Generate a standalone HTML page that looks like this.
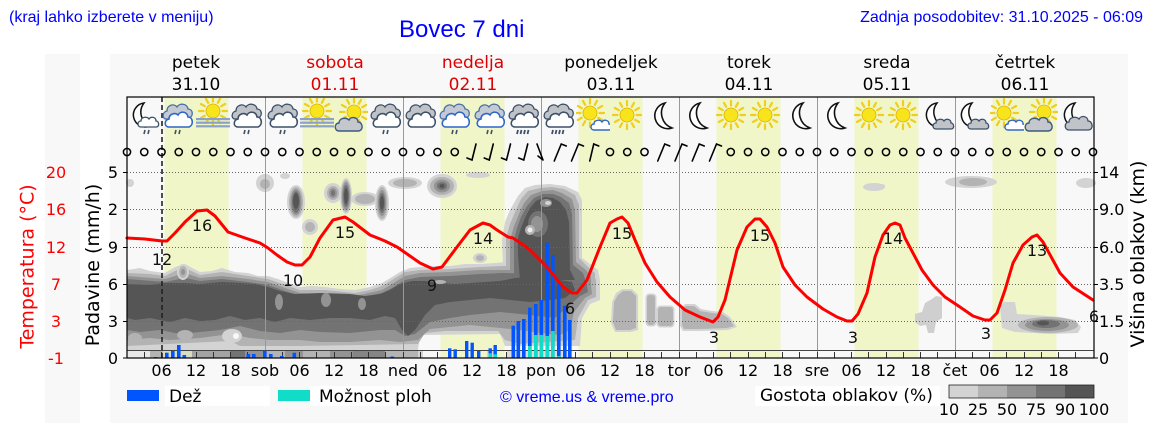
<!DOCTYPE html>
<html><head><meta charset="utf-8"><style>
html,body{margin:0;padding:0;background:#fff;width:1152px;height:443px;overflow:hidden}
svg{display:block}
.t{font-family:"DejaVu Sans","Liberation Sans",sans-serif}
.h{font-family:"Liberation Sans","DejaVu Sans",sans-serif}
</style></head><body>
<svg width="1152" height="443" viewBox="0 0 1152 443" xmlns="http://www.w3.org/2000/svg">
<defs>
<symbol id="sunS" viewBox="0 0 34 38">
<path d="M26.5,17 L31,17 M25.2,21.8 L29.1,24 M21.8,25.2 L24,29.1 M17,26.5 L17,31 M12.2,25.2 L10,29.1 M8.8,21.8 L4.9,24 M7.5,17 L3,17 M8.8,12.2 L4.9,10 M12.2,8.8 L10,4.9 M17,7.5 L17,3 M21.8,8.8 L24,4.9 M25.2,12.2 L29.1,10" stroke="#efcf1c" stroke-width="2.2" stroke-linecap="round"/>
<circle cx="17" cy="17" r="7" fill="#f7e41d" stroke="#e0b400" stroke-width="0.8"/>
</symbol>
<symbol id="cR" viewBox="0 0 34 38">
<path d="M5,21 C1,21 1,14 6,13 C6,7 13,5 16,9 C18,5 26,5 27,11 C32,11 33,18 28,20 Z" fill="#bfc3c8" stroke="#3d5068" stroke-width="1.3"/>
<path d="M8,29 C3,29 3,22 8,21 C8,16 14,14 17,17 C19,13 26,13 27,19 C32,19 33,27 28,29 Z" fill="#fff" stroke="#3d5068" stroke-width="1.6"/>
<path d="M15,32 l-1,4 M19,32 l-1,4" stroke="#3d5068" stroke-width="1.6"/>
</symbol>
<symbol id="cN" viewBox="0 0 34 38">
<path d="M5,21 C1,21 1,14 6,13 C6,7 13,5 16,9 C18,5 26,5 27,11 C32,11 33,18 28,20 Z" fill="#bfc3c8" stroke="#3d5068" stroke-width="1.3"/>
<path d="M8,29 C3,29 3,22 8,21 C8,16 14,14 17,17 C19,13 26,13 27,19 C32,19 33,27 28,29 Z" fill="#fff" stroke="#3d5068" stroke-width="1.6"/>
</symbol>
<symbol id="cB" viewBox="0 0 34 38">
<path d="M5,21 C1,21 1,14 6,13 C6,7 13,5 16,9 C18,5 26,5 27,11 C32,11 33,18 28,20 Z" fill="#c4cad4" stroke="#4a6fa8" stroke-width="1.3"/>
<path d="M8,29 C3,29 3,22 8,21 C8,16 14,14 17,17 C19,13 26,13 27,19 C32,19 33,27 28,29 Z" fill="#fff" stroke="#2f66c8" stroke-width="1.6"/>
<path d="M15,32 l-1,4 M19,32 l-1,4" stroke="#3d5068" stroke-width="1.6"/>
</symbol>
<symbol id="cH" viewBox="0 0 34 38">
<path d="M5,21 C1,21 1,14 6,13 C6,7 13,5 16,9 C18,5 26,5 27,11 C32,11 33,18 28,20 Z" fill="#bfc3c8" stroke="#3d5068" stroke-width="1.3"/>
<path d="M8,29 C3,29 3,22 8,21 C8,16 14,14 17,17 C19,13 26,13 27,19 C32,19 33,27 28,29 Z" fill="#fff" stroke="#3d5068" stroke-width="1.6"/>
<path d="M11,32 l-1,4 M14.5,32 l-1,4 M18,32 l-1,4 M21.5,32 l-1,4" stroke="#3d5068" stroke-width="1.8"/>
</symbol>
<symbol id="sF" viewBox="0 0 34 38">
<use href="#sunS" x="0" y="-4" width="34" height="38"/>
<rect x="0" y="20" width="34" height="2.2" fill="#8aa2c8"/>
<rect x="0" y="23.6" width="34" height="2.2" fill="#8aa2c8"/>
<rect x="0" y="27.2" width="34" height="2.2" fill="#8aa2c8"/>
</symbol>
<symbol id="mn" viewBox="0 0 34 38">
<path d="M20,5 A13,13 0 1 0 27,30 A16,16 0 0 1 20,5 Z" fill="#fff" stroke="#111" stroke-width="1.6"/>
</symbol>
<symbol id="mC" viewBox="0 0 34 38">
<path d="M16,5 A12,12 0 1 0 22,28 A15,15 0 0 1 16,5 Z" fill="#fff" stroke="#111" stroke-width="1.5"/>
<path d="M15,31 C11,31 11,25 15,25 C15,21 21,20 23,23 C25,20 30,21 30,25 C33,25 34,31 30,31 Z" fill="#c0c4c8" stroke="#3d5068" stroke-width="1.3"/>
</symbol>
<symbol id="mG" viewBox="0 0 34 38">
<path d="M16,5 A12,12 0 1 0 22,28 A15,15 0 0 1 16,5 Z" fill="#fff" stroke="#111" stroke-width="1.5"/>
<path d="M10,32 C5,32 5,24 10,24 C10,19 17,18 20,21 C22,17 29,18 29,23 C34,23 35,32 29,32 Z" fill="#c0c4c8" stroke="#3d5068" stroke-width="1.3"/>
</symbol>
<symbol id="mR" viewBox="0 0 34 38">
<path d="M16,5 A12,12 0 1 0 22,28 A15,15 0 0 1 16,5 Z" fill="#fff" stroke="#111" stroke-width="1.5"/>
<path d="M13,29 C9,29 9,23 13,23 C13,19 19,18 21,21 C23,18 28,19 28,23 C31,23 32,29 28,29 Z" fill="#fff" stroke="#3d5068" stroke-width="1.3"/>
<path d="M17,32 l-1,4 M21,32 l-1,4" stroke="#3d5068" stroke-width="1.6"/>
</symbol>
<symbol id="sC" viewBox="0 0 34 38">
<use href="#sunS" x="-3" y="-2" width="34" height="38"/>
<path d="M18,32 C14,32 14,26 18,26 C18,22 24,21 26,24 C28,21 33,22 33,26 C36,26 36,32 33,32 Z" fill="#fff" stroke="#3068c8" stroke-width="1.4"/>
</symbol>
<symbol id="sG" viewBox="0 0 34 38">
<use href="#sunS" x="3" y="-3" width="34" height="38"/>
<path d="M5,33 C0,33 0,25 5,25 C5,20 12,19 15,22 C17,18 24,19 24,24 C29,24 30,33 24,33 Z" fill="#c4c8cc" stroke="#3d5a80" stroke-width="1.4"/>
</symbol>
</defs>

<!-- panels -->
<rect x="45" y="54" width="35" height="369" fill="#f8f8f8"/>
<rect x="110" y="54" width="1018" height="369" fill="#f8f8f8"/>

<!-- header text -->
<text class="h" x="9" y="22" font-size="16" fill="#0000ff">(kraj lahko izberete v meniju)</text>
<text class="h" x="399" y="37" font-size="24" fill="#0000ff">Bovec 7 dni</text>
<text class="h" x="1143" y="22" font-size="16" fill="#0000ff" text-anchor="end">Zadnja posodobitev: 31.10.2025 - 06:09</text>

<!-- day labels -->
<g class="t" font-size="17" text-anchor="middle">
<text x="196" y="68">petek</text><text x="196" y="90">31.10</text>
<text x="335" y="68" fill="#dd0000">sobota</text><text x="335" y="90" fill="#dd0000">01.11</text>
<text x="473" y="68" fill="#dd0000">nedelja</text><text x="473" y="90" fill="#dd0000">02.11</text>
<text x="611" y="68">ponedeljek</text><text x="611" y="90">03.11</text>
<text x="749" y="68">torek</text><text x="749" y="90">04.11</text>
<text x="887" y="68">sreda</text><text x="887" y="90">05.11</text>
<text x="1025" y="68">četrtek</text><text x="1025" y="90">06.11</text>
</g>

<!-- day bands -->
<g fill="#f0f6c8">
<rect x="164.5" y="97" width="64" height="261"/>
<rect x="302.5" y="97" width="64" height="261"/>
<rect x="440.5" y="97" width="64" height="261"/>
<rect x="578.5" y="97" width="64" height="261"/>
<rect x="716.5" y="97" width="64" height="261"/>
<rect x="854.5" y="97" width="64" height="261"/>
<rect x="992.5" y="97" width="64" height="261"/>
</g>

<!-- clouds: low layer + blob -->
<polygon fill="#d3d3d3" points="127,270 140,268 150,271 165,273 175,267 185,264 192,268 200,272 212,271 222,268 235,272 248,273 258,276 268,276 278,279 288,283 300,287 312,286 325,287 340,289 355,290 370,287 382,283 392,277 400,272 410,268 420,267 435,266 450,266 465,264 480,264 495,263 505,262 580,262 590,266 598,270 600,280 600,300 590,304 582,318 580,346 505,346 500,334 420,335 418,350 127,350"/>
<polygon fill="#d3d3d3" points="503,265 502,240 505,222 510,210 518,196 525,188 535,185 550,184 565,186 578,192 582,200 582,258 590,264 598,270 598,290 503,290"/>
<polygon fill="#b3b3b3" points="127,273 150,274 165,276 175,271 185,268 200,275 222,272 248,276 268,279 288,286 300,290 325,290 355,293 370,290 382,286 392,280 405,272 420,270 450,269 480,267 503,266 580,266 592,271 596,280 596,297 588,300 578,318 575,340 520,344 505,340 498,331 445,331 425,333 418,344 300,346 262,346 240,346 230,341 127,346"/>
<polygon fill="#b3b3b3" points="506,262 506,238 510,224 515,212 521,199 528,191 540,188 552,187 564,189 575,195 579,205 579,258 588,267 595,273 595,288 506,288"/>
<polygon fill="#939393" points="127,276 165,279 185,273 200,278 222,276 248,279 268,282 288,289 300,293 355,296 382,290 392,284 405,276 420,273 450,272 480,270 503,270 575,270 590,276 592,294 585,298 574,312 570,330 560,335 540,333 520,330 500,328 470,325 450,327 430,329 418,340 400,342 380,340 350,342 320,342 300,340 270,340 250,338 230,334 200,338 170,340 150,338 127,340"/>
<polygon fill="#939393" points="510,260 510,240 514,226 519,214 524,203 531,195 542,191 553,190 562,193 572,199 575,210 576,262 586,270 591,277 591,288 510,288"/>
<polygon fill="#737373" points="127,279 165,282 185,278 200,281 222,279 248,282 268,285 288,292 300,296 355,299 382,293 392,288 405,280 420,277 450,276 480,274 503,273 572,274 586,280 588,292 580,296 570,305 555,318 530,315 500,312 470,315 450,318 430,322 415,334 405,336 395,330 380,330 350,333 320,332 300,330 280,333 260,331 240,326 220,330 200,332 180,334 160,330 140,332 127,330"/>
<polygon fill="#737373" points="514,258 514,240 517,228 521,217 527,206 534,198 543,194 553,194 561,197 569,203 572,214 573,265 583,273 587,285 514,285"/>
<polygon fill="#555555" points="127,284 150,285 165,283 185,283 200,284 222,282 240,283 255,284 268,287 280,291 295,294 320,293 350,294 365,296 380,294 390,290 400,284 412,281 425,281 440,283 455,284 470,283 485,282 500,281 515,278 530,277 545,278 560,280 572,282 575,290 565,298 550,300 530,302 510,300 490,298 470,300 450,302 435,305 425,315 415,330 408,336 402,330 395,318 385,316 370,320 350,318 330,318 310,320 290,318 275,322 260,318 245,320 230,316 215,320 200,321 185,318 170,322 150,318 135,320 127,318"/>
<polygon fill="#555555" points="518,255 518,238 521,228 525,218 530,208 536,201 545,197 553,198 560,202 566,210 569,222 570,270 575,280 520,280"/>
<!-- holes / texture -->
<ellipse cx="538" cy="224" rx="10" ry="13" fill="#737373"/>
<ellipse cx="537" cy="224" rx="6" ry="8" fill="#939393"/>
<ellipse cx="279" cy="302" rx="4" ry="8" fill="#939393"/>
<ellipse cx="326" cy="300" rx="5" ry="7" fill="#939393"/>
<ellipse cx="362" cy="304" rx="4" ry="6" fill="#939393"/>
<ellipse cx="440" cy="282" rx="6" ry="2" fill="#b3b3b3"/>
<ellipse cx="232" cy="336" rx="10" ry="7" fill="#d3d3d3"/>
<ellipse cx="236" cy="336" rx="3" ry="3" fill="#f8f8f8"/>
<ellipse cx="185" cy="335" rx="8" ry="5" fill="#b3b3b3"/>
<ellipse cx="135" cy="338" rx="7" ry="5" fill="#b3b3b3"/>
<ellipse cx="530" cy="230" rx="5" ry="5" fill="#b3b3b3"/>
<ellipse cx="530" cy="230" rx="2.5" ry="2.5" fill="#eeeeee"/>
<ellipse cx="546" cy="203" rx="6" ry="4" fill="#939393"/>
<ellipse cx="548" cy="203" rx="3" ry="2" fill="#d3d3d3"/>

<!-- upper clouds -->
<g>
<ellipse cx="130" cy="183" rx="4" ry="4" fill="#d3d3d3"/>
<ellipse cx="265" cy="183" rx="9" ry="9" fill="#d3d3d3"/><ellipse cx="265" cy="184" rx="5" ry="5" fill="#b3b3b3"/>
<ellipse cx="285" cy="176" rx="5" ry="3" fill="#d3d3d3"/>
<ellipse cx="296" cy="202" rx="9" ry="17" fill="#d3d3d3"/><ellipse cx="296" cy="202" rx="7" ry="15" fill="#b3b3b3"/><ellipse cx="296" cy="202" rx="5.5" ry="13" fill="#939393"/><ellipse cx="296" cy="202" rx="4" ry="11" fill="#737373"/><ellipse cx="296" cy="201" rx="3" ry="8" fill="#555"/>
<ellipse cx="310" cy="227" rx="8" ry="8" fill="#d3d3d3"/><ellipse cx="310" cy="227" rx="5" ry="5" fill="#b3b3b3"/>
<ellipse cx="183" cy="272" rx="6" ry="8" fill="#d3d3d3"/><ellipse cx="183" cy="272" rx="4" ry="6" fill="#b3b3b3"/><ellipse cx="183" cy="272" rx="2" ry="3" fill="#939393"/>
<ellipse cx="365" cy="199" rx="14" ry="7" fill="#d3d3d3"/><ellipse cx="365" cy="199" rx="10" ry="5" fill="#b3b3b3"/>
<ellipse cx="405" cy="183" rx="17" ry="6" fill="#d3d3d3"/><ellipse cx="405" cy="183" rx="12" ry="4" fill="#b3b3b3"/>
<ellipse cx="333" cy="193" rx="9" ry="10" fill="#d3d3d3"/><ellipse cx="333" cy="193" rx="6" ry="7" fill="#b3b3b3"/><ellipse cx="333" cy="193" rx="4" ry="5" fill="#939393"/><ellipse cx="333" cy="193" rx="2" ry="3" fill="#737373"/>
<ellipse cx="346" cy="196" rx="6" ry="18" fill="#d3d3d3"/><ellipse cx="346" cy="196" rx="5" ry="16" fill="#b3b3b3"/><ellipse cx="346" cy="196" rx="4" ry="14" fill="#939393"/><ellipse cx="346" cy="196" rx="3" ry="11" fill="#737373"/><ellipse cx="346" cy="196" rx="2" ry="8" fill="#555"/>
<ellipse cx="382" cy="203" rx="7" ry="18" fill="#d3d3d3"/><ellipse cx="382" cy="203" rx="5.5" ry="16" fill="#b3b3b3"/><ellipse cx="382" cy="203" rx="4" ry="13" fill="#939393"/><ellipse cx="382" cy="203" rx="3" ry="10" fill="#737373"/><ellipse cx="382" cy="203" rx="2" ry="7" fill="#555"/>
<ellipse cx="442" cy="186" rx="15" ry="12" fill="#d3d3d3"/><ellipse cx="442" cy="186" rx="12" ry="9" fill="#b3b3b3"/><ellipse cx="442" cy="186" rx="8" ry="6.5" fill="#939393"/><ellipse cx="442" cy="186" rx="5" ry="4" fill="#737373"/><ellipse cx="442" cy="186" rx="2.5" ry="2" fill="#555"/>
<ellipse cx="478" cy="175" rx="12" ry="3" fill="#d3d3d3"/>
<ellipse cx="480" cy="258" rx="7" ry="5" fill="#d3d3d3"/><ellipse cx="480" cy="258" rx="4" ry="3" fill="#b3b3b3"/>
</g>

<!-- mid-week clouds -->
<g>
<polygon fill="#d3d3d3" points="612,302 616,293 622,289 632,289 638,295 638,330 631,332 615,332 611,323"/>
<polygon fill="#b3b3b3" points="614,302 618,295 623,291 631,291 636,296 636,328 630,330 616,330 613,322"/>
<rect x="645.5" y="293.5" width="11" height="33" rx="4" fill="#d3d3d3"/><rect x="647" y="295" width="8" height="30" rx="3" fill="#b3b3b3"/>
<rect x="656.5" y="305.5" width="18" height="22" rx="4" fill="#d3d3d3"/><rect x="658" y="307" width="15" height="19" rx="3" fill="#b3b3b3"/>
<polygon fill="#d3d3d3" points="680,309 685,304 695,304 701,309 712,311 723,312 730,317 737,327 728,330 700,331 683,331 680,326"/>
<polygon fill="#b3b3b3" points="682,309 686,306 694,306 700,311 712,313 722,314 728,318 734,326 727,328 700,329 684,329 682,325"/>
<ellipse cx="874" cy="187" rx="11" ry="4" fill="#d3d3d3"/>
<ellipse cx="882" cy="186" rx="3" ry="2" fill="#d3d3d3"/>
<polygon fill="#cfcfcf" points="915,314 922,312 925,303 932,299 936,296 942,297 942,318 936,322 934,333 928,333 926,325 920,326 915,322"/>
<ellipse cx="971" cy="182" rx="26" ry="6" fill="#d3d3d3"/><ellipse cx="973" cy="182" rx="14" ry="4" fill="#b3b3b3"/>
<ellipse cx="1086" cy="183" rx="10" ry="5" fill="#d3d3d3"/>
<polygon fill="#d3d3d3" points="1000,306 1004,302 1015,302 1017,314 1035,315 1060,317 1075,320 1081,327 1078,333 1050,334 1015,332 1002,328"/>
<ellipse cx="1048" cy="325" rx="30" ry="8" fill="#b3b3b3"/>
<ellipse cx="1047" cy="325" rx="22" ry="6" fill="#939393"/>
<ellipse cx="1046" cy="324" rx="14" ry="4" fill="#737373"/>
<ellipse cx="1043" cy="323" rx="6" ry="2.5" fill="#555"/>
</g>

<!-- bottom strip -->
<g>
<rect x="127" y="350" width="23" height="8" fill="#e8e8e8"/>
<rect x="150" y="350" width="13" height="8" fill="#b3b3b3"/>
<rect x="163" y="350" width="29" height="8" fill="#d8dcc0"/>
<rect x="192" y="350" width="38" height="8" fill="#a3a3a3"/>
<rect x="230" y="350" width="15" height="8" fill="#737373"/>
<rect x="245" y="350" width="20" height="8" fill="#939393"/>
<rect x="265" y="350" width="20" height="8" fill="#b3b3b3"/>
<rect x="285" y="350" width="18" height="8" fill="#939393"/>
<rect x="303" y="350" width="27" height="8" fill="#b3b3b3"/>
<rect x="330" y="350" width="23" height="8" fill="#939393"/>
<rect x="353" y="350" width="32" height="8" fill="#858585"/>
<rect x="385" y="350" width="33" height="8" fill="#b3b3b3"/>
<rect x="418" y="350" width="5" height="8" fill="#d3d3d3"/>
<rect x="487" y="350" width="9" height="8" fill="#d3d3d3"/>
<rect x="507" y="350" width="64" height="8" fill="#dcdcdc"/>
</g>

<!-- grid -->
<g stroke="#666" stroke-width="1" stroke-dasharray="1,2">
<line x1="127" y1="172.5" x2="1094" y2="172.5"/>
<line x1="127" y1="209.5" x2="1094" y2="209.5"/>
<line x1="127" y1="247.5" x2="1094" y2="247.5"/>
<line x1="127" y1="284.5" x2="1094" y2="284.5"/>
<line x1="127" y1="321.5" x2="1094" y2="321.5"/>
</g>
<g stroke="#999" stroke-width="1">
<line x1="265.5" y1="97" x2="265.5" y2="358"/>
<line x1="403.5" y1="97" x2="403.5" y2="358"/>
<line x1="541.5" y1="97" x2="541.5" y2="358"/>
<line x1="679.5" y1="97" x2="679.5" y2="358"/>
<line x1="817.5" y1="97" x2="817.5" y2="358"/>
<line x1="955.5" y1="97" x2="955.5" y2="358"/>
</g>
<line x1="127" y1="350.5" x2="1094" y2="350.5" stroke="#444" stroke-width="1"/>
<path stroke="#333" stroke-width="1" d="M144.5,352V358M161.5,352V358M178.5,352V358M196.5,352V358M213.5,352V358M230.5,352V358M247.5,352V358M265.5,352V358M282.5,352V358M299.5,352V358M316.5,352V358M334.5,352V358M351.5,352V358M368.5,352V358M385.5,352V358M403.5,352V358M420.5,352V358M437.5,352V358M454.5,352V358M472.5,352V358M489.5,352V358M506.5,352V358M523.5,352V358M541.5,352V358M558.5,352V358M575.5,352V358M592.5,352V358M610.5,352V358M627.5,352V358M644.5,352V358M661.5,352V358M679.5,352V358M696.5,352V358M713.5,352V358M730.5,352V358M748.5,352V358M765.5,352V358M782.5,352V358M799.5,352V358M817.5,352V358M834.5,352V358M851.5,352V358M868.5,352V358M886.5,352V358M903.5,352V358M920.5,352V358M937.5,352V358M955.5,352V358M972.5,352V358M989.5,352V358M1006.5,352V358M1024.5,352V358M1041.5,352V358M1058.5,352V358M1075.5,352V358"/>

<!-- precipitation bars -->
<g fill="#0055ff">
<rect x="154" y="357" width="3.4" height="1"/>
<rect x="165" y="352.7" width="3.6" height="5.3"/>
<rect x="171" y="351" width="3.6" height="7"/>
<rect x="177" y="345" width="3.6" height="13"/>
<rect x="182.5" y="355" width="3.6" height="3"/>
<rect x="246.5" y="354" width="3.6" height="4"/>
<rect x="252" y="354" width="3.6" height="4"/>
<rect x="263" y="350.7" width="3.6" height="7.3"/>
<rect x="269" y="354" width="3.6" height="4"/>
<rect x="280" y="356" width="3.6" height="2"/>
<rect x="292.5" y="352.7" width="3.6" height="5.3"/>
<rect x="390.5" y="356.5" width="3.4" height="1.5"/>
<rect x="448" y="348.3" width="3.4" height="9.7"/>
<rect x="453.5" y="349.3" width="3.4" height="8.7"/>
<rect x="465" y="341" width="3.4" height="17"/>
<rect x="470.5" y="342.7" width="3.4" height="15.3"/>
<rect x="477" y="351" width="3.4" height="7"/>
<rect x="488.5" y="348.3" width="3.4" height="9.7"/>
<rect x="493.5" y="345" width="3.4" height="13"/>
<rect x="511.5" y="325.7" width="3.6" height="32.3"/>
<rect x="516.5" y="321" width="3.6" height="37"/>
<rect x="522" y="319" width="3.6" height="39"/>
<rect x="528" y="307.7" width="3.6" height="50.3"/>
<rect x="534" y="304" width="3.6" height="54"/>
<rect x="539.5" y="300" width="3.6" height="58"/>
<rect x="545.5" y="242.7" width="3.6" height="115.3"/>
<rect x="551" y="255" width="3.6" height="103"/>
<rect x="557" y="283.3" width="3.6" height="74.7"/>
<rect x="563" y="305.7" width="3.6" height="52.3"/>
<rect x="568" y="320" width="3.6" height="38"/>
</g>
<g fill="#10dcc8">
<rect x="488.5" y="353.3" width="3.4" height="4.7"/>
<rect x="493.5" y="354.3" width="3.4" height="3.7"/>
<rect x="528" y="346" width="3.6" height="12"/>
<rect x="534" y="335" width="3.6" height="23"/>
<rect x="539.5" y="335" width="3.6" height="23"/>
<rect x="545.5" y="336" width="3.6" height="22"/>
<rect x="551" y="331" width="3.6" height="27"/>
<rect x="557" y="356" width="3.6" height="2"/>
</g>

<!-- now line -->
<line x1="162" y1="97" x2="162" y2="358" stroke="#222" stroke-width="1.6" stroke-dasharray="5,3"/>

<!-- temperature curve -->
<polyline fill="none" stroke="#ff0000" stroke-width="3" stroke-linejoin="round" stroke-linecap="round" points="127,238 145,239 162,241 167,241 175,233 185,222 197,211 207,210 215,216 228,232 245,238 260,243 268,248 277,255 287,262 295,265 302,265 310,257 320,238 333,220 345,217 353,222 370,235 385,241 397,247 410,256 420,263 433,269 442,267 457,247 470,230 483,223 490,225 497,230 508,237 513,238 522,244 530,250 547,267 563,287 572,293 577,293 587,280 600,247 610,223 617,219 622,217 628,223 635,240 645,263 657,282 670,297 685,310 700,317 713,322 718,317 725,300 737,250 747,227 755,219 760,219 767,227 775,243 783,267 795,285 807,297 823,309 837,317 847,321 852,321 858,314 867,293 875,257 883,235 890,225 895,223 900,225 905,238 922,270 933,285 945,297 960,307 973,316 985,320 990,320 997,313 1005,290 1013,263 1023,245 1032,237 1037,235 1043,242 1060,273 1073,287 1093,300"/>

<!-- temp value labels -->
<g class="t" font-size="16" text-anchor="middle" fill="#111">
<text x="162" y="265">12</text><text x="202" y="231">16</text><text x="293" y="286">10</text>
<text x="345" y="238">15</text><text x="432" y="291">9</text><text x="483" y="244">14</text>
<text x="570" y="314">6</text><text x="622" y="239">15</text><text x="714" y="343">3</text>
<text x="760" y="241">15</text><text x="853" y="343">3</text><text x="893" y="244">14</text>
<text x="986" y="339">3</text><text x="1037" y="256">13</text><text x="1094" y="322">6</text>
</g>

<!-- icons -->
<use href="#mR" x="128" y="98" width="34" height="38"/>
<use href="#cB" x="161" y="98" width="34" height="38"/>
<use href="#sF" x="196" y="98" width="34" height="38"/>
<use href="#cR" x="230" y="98" width="34" height="38"/>
<use href="#cR" x="266" y="98" width="34" height="38"/>
<use href="#sF" x="300" y="98" width="34" height="38"/>
<use href="#sG" x="334" y="98" width="34" height="38"/>
<use href="#cR" x="369" y="98" width="34" height="38"/>
<use href="#cN" x="404" y="98" width="34" height="38"/>
<use href="#cB" x="438" y="98" width="34" height="38"/>
<use href="#cB" x="473" y="98" width="34" height="38"/>
<use href="#cH" x="507" y="98" width="34" height="38"/>
<use href="#cH" x="542" y="98" width="34" height="38"/>
<use href="#sC" x="576" y="98" width="34" height="38"/>
<use href="#sunS" x="610" y="98" width="34" height="38"/>
<use href="#mn" x="645" y="98" width="34" height="38"/>
<use href="#mn" x="680" y="98" width="34" height="38"/>
<use href="#sunS" x="714" y="98" width="34" height="38"/>
<use href="#sunS" x="748" y="98" width="34" height="38"/>
<use href="#mn" x="783" y="98" width="34" height="38"/>
<use href="#mn" x="818" y="98" width="34" height="38"/>
<use href="#sunS" x="852" y="98" width="34" height="38"/>
<use href="#sunS" x="886" y="98" width="34" height="38"/>
<use href="#mC" x="921" y="98" width="34" height="38"/>
<use href="#mC" x="956" y="98" width="34" height="38"/>
<use href="#sC" x="990" y="98" width="34" height="38"/>
<use href="#sG" x="1024" y="98" width="34" height="38"/>
<use href="#mG" x="1059" y="98" width="34" height="38"/>

<!-- wind: calm circles -->
<g fill="none" stroke="#000" stroke-width="1.5">
<circle cx="127" cy="152" r="3.6"/><circle cx="144.25" cy="152" r="3.6"/><circle cx="161.5" cy="152" r="3.6"/><circle cx="178.75" cy="152" r="3.6"/><circle cx="196" cy="152" r="3.6"/><circle cx="213.25" cy="152" r="3.6"/><circle cx="230.5" cy="152" r="3.6"/><circle cx="247.75" cy="152" r="3.6"/><circle cx="265" cy="152" r="3.6"/><circle cx="282.25" cy="152" r="3.6"/><circle cx="299.5" cy="152" r="3.6"/><circle cx="316.75" cy="152" r="3.6"/><circle cx="334" cy="152" r="3.6"/><circle cx="351.25" cy="152" r="3.6"/><circle cx="368.5" cy="152" r="3.6"/><circle cx="385.75" cy="152" r="3.6"/><circle cx="403" cy="152" r="3.6"/><circle cx="420.25" cy="152" r="3.6"/><circle cx="437.5" cy="152" r="3.6"/><circle cx="454.75" cy="152" r="3.6"/>
<circle cx="610" cy="152" r="3.6"/><circle cx="627.25" cy="152" r="3.6"/><circle cx="644.5" cy="152" r="3.6"/>
<circle cx="730.75" cy="152" r="3.6"/><circle cx="748" cy="152" r="3.6"/><circle cx="765.25" cy="152" r="3.6"/><circle cx="782.5" cy="152" r="3.6"/><circle cx="799.75" cy="152" r="3.6"/><circle cx="817" cy="152" r="3.6"/><circle cx="834.25" cy="152" r="3.6"/><circle cx="851.5" cy="152" r="3.6"/><circle cx="868.75" cy="152" r="3.6"/><circle cx="886" cy="152" r="3.6"/><circle cx="903.25" cy="152" r="3.6"/><circle cx="920.5" cy="152" r="3.6"/><circle cx="937.75" cy="152" r="3.6"/><circle cx="955" cy="152" r="3.6"/><circle cx="972.25" cy="152" r="3.6"/><circle cx="989.5" cy="152" r="3.6"/><circle cx="1006.75" cy="152" r="3.6"/><circle cx="1024" cy="152" r="3.6"/><circle cx="1041.25" cy="152" r="3.6"/><circle cx="1058.5" cy="152" r="3.6"/><circle cx="1075.75" cy="152" r="3.6"/><circle cx="1093" cy="152" r="3.6"/>
</g>
<!-- wind barbs -->
<g fill="none" stroke="#000" stroke-width="1.6" stroke-linecap="round">
<path d="M476,144 L472,160 L467,158"/>
<path d="M493.25,144 L489.25,160 L484.25,158"/>
<path d="M510.5,144 L506.5,160 L501.5,158"/>
<path d="M527.75,144 L523.75,160 L518.75,158"/>
<path d="M537,144 L543,160 M543,160 L538,156"/>
<path d="M554.25,161 L561.25,144 L566.25,146"/>
<path d="M571.5,161 L578.5,144 L583.5,146"/>
<path d="M589.75,161 L593.75,144 L598.75,146"/>
<path d="M657.75,161 L664.75,144 L669.75,146"/>
<path d="M675,161 L682,144 L687,146"/>
<path d="M692.25,161 L699.25,144 L704.25,146"/>
<path d="M709.5,161 L716.5,144 L721.5,146"/>
</g>

<!-- spines -->
<rect x="127" y="97" width="967" height="261" fill="none" stroke="#000" stroke-width="1.2"/>
<path stroke="#000" stroke-width="1" d="M123,172.5H127M123,209.5H127M123,247.5H127M123,284.5H127M123,321.5H127M123,358H127M1094,172.5H1098M1094,209.5H1098M1094,247.5H1098M1094,284.5H1098M1094,321.5H1098M1094,358H1098"/>

<!-- left axes labels -->
<g class="t" font-size="16" fill="#ff0000" text-anchor="middle">
<text x="56" y="178">20</text><text x="56" y="215">16</text><text x="56" y="253">12</text>
<text x="56" y="290">7</text><text x="56" y="327">3</text><text x="56" y="364">-1</text>
</g>
<g class="t" font-size="16" fill="#000" text-anchor="end">
<text x="118" y="178">5</text><text x="118" y="215">2</text><text x="118" y="253">9</text>
<text x="118" y="290">6</text><text x="118" y="327">3</text><text x="118" y="364">0</text>
</g>
<g class="t" font-size="16" fill="#000">
<text x="1099" y="178">14</text><text x="1099" y="215">9.0</text><text x="1099" y="253">6.0</text>
<text x="1099" y="290">3.5</text><text x="1099" y="327">1.5</text><text x="1099" y="364">0</text>
</g>
<text class="t" font-size="19" fill="#ff0000" text-anchor="middle" transform="translate(33.5,266.5) rotate(-90)">Temperatura (°C)</text>
<text class="t" font-size="19" fill="#000" text-anchor="middle" transform="translate(99,265) rotate(-90)">Padavine (mm/h)</text>
<text class="t" font-size="19" fill="#000" text-anchor="middle" transform="translate(1144,254) rotate(-90)">Višina oblakov (km)</text>

<!-- x tick labels -->
<g class="t" font-size="16" text-anchor="middle" fill="#000">
<text x="161.5" y="376">06</text><text x="196" y="376">12</text><text x="230.5" y="376">18</text><text x="265" y="376">sob</text>
<text x="299.5" y="376">06</text><text x="334" y="376">12</text><text x="368.5" y="376">18</text><text x="403" y="376">ned</text>
<text x="437.5" y="376">06</text><text x="472" y="376">12</text><text x="506.5" y="376">18</text><text x="541" y="376">pon</text>
<text x="575.5" y="376">06</text><text x="610" y="376">12</text><text x="644.5" y="376">18</text><text x="679" y="376">tor</text>
<text x="713.5" y="376">06</text><text x="748" y="376">12</text><text x="782.5" y="376">18</text><text x="817" y="376">sre</text>
<text x="851.5" y="376">06</text><text x="886" y="376">12</text><text x="920.5" y="376">18</text><text x="955" y="376">čet</text>
<text x="989.5" y="376">06</text><text x="1024" y="376">12</text><text x="1058.5" y="376">18</text>
</g>

<!-- legend -->
<rect x="127" y="390" width="32" height="11" fill="#0055ff"/>
<rect x="165" y="386" width="105" height="20" fill="#fff"/>
<text class="t" x="169" y="402" font-size="17" fill="#000">Dež</text>
<rect x="278" y="390" width="32" height="11" fill="#10dcc8"/>
<rect x="310" y="386" width="110" height="20" fill="#fff"/>
<text class="t" x="319" y="402" font-size="17" fill="#000">Možnost ploh</text>
<text class="h" x="500" y="402" font-size="16" fill="#0000ff">© vreme.us &amp; vreme.pro</text>
<rect x="755" y="386" width="185" height="20" fill="#fff"/>
<text class="t" x="760" y="401" font-size="17" fill="#000">Gostota oblakov (%)</text>
<g>
<rect x="949" y="385" width="29" height="13" fill="#d3d3d3"/>
<rect x="978" y="385" width="29" height="13" fill="#b3b3b3"/>
<rect x="1007" y="385" width="29" height="13" fill="#939393"/>
<rect x="1036" y="385" width="29" height="13" fill="#737373"/>
<rect x="1065" y="385" width="29" height="13" fill="#555555"/>
<rect x="949" y="385" width="145" height="13" fill="none" stroke="#222" stroke-width="0.8"/>
</g>
<g class="t" font-size="16" text-anchor="middle" fill="#000">
<text x="949" y="415">10</text><text x="978" y="415">25</text><text x="1007" y="415">50</text>
<text x="1036" y="415">75</text><text x="1065" y="415">90</text><text x="1094" y="415">100</text>
</g>
</svg>
</body></html>
